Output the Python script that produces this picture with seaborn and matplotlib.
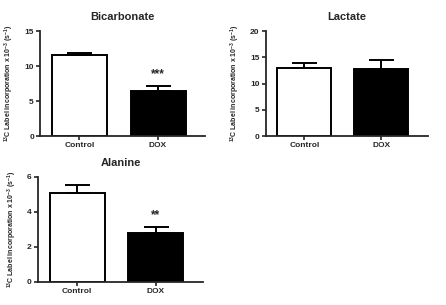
import matplotlib
matplotlib.use("Agg")
import matplotlib.pyplot as plt
import seaborn as sns
import pandas as pd

# данные
groups = ["Control", "DOX"]
bicarbonate_mean = [11.6, 6.4]
bicarbonate_err = [0.3, 0.8]
lactate_mean = [13.0, 12.7]
lactate_err = [0.85, 1.7]
alanine_mean = [5.1, 2.8]
alanine_err = [0.45, 0.35]

bar_colors = ["white", "black"]
ylabel = "$^{13}$C Label incorporation x 10$^{-3}$ (s$^{-1}$)"

sns.set_theme(style="ticks")
plt.rcParams["font.family"] = ["Liberation Sans", "DejaVu Sans"]
plt.rcParams["font.weight"] = "bold"
plt.rcParams["mathtext.default"] = "regular"

fig = plt.figure(figsize=(4.46, 3.05), dpi=100)

panels = [
    ("Bicarbonate", bicarbonate_mean, bicarbonate_err, [0, 5, 10, 15], "***", [0.09, 0.554, 0.37, 0.344]),
    ("Lactate", lactate_mean, lactate_err, [0, 5, 10, 15, 20], None, [0.596, 0.554, 0.363, 0.344]),
    ("Alanine", alanine_mean, alanine_err, [0, 2, 4, 6], "**", [0.085, 0.076, 0.37, 0.344]),
]

for title, means, errs, yticks, stars, pos in panels:
    ax = fig.add_axes(pos)
    df = pd.DataFrame({"group": groups, "value": means})
    sns.barplot(data=df, x="group", y="value", hue="group", palette=bar_colors,
                width=0.7, edgecolor="black", linewidth=1.4, legend=False, ax=ax)
    # только верхняя половина ошибки
    ax.errorbar(range(len(groups)), means, yerr=[[0] * len(errs), errs],
                fmt="none", ecolor="black", elinewidth=1.4, capsize=9, capthick=1.4)
    if stars:
        i = 1
        ax.text(i, means[i] + errs[i] + 0.05 * yticks[-1], stars, ha="center", va="bottom",
                fontsize=8.5, fontweight="bold")
    ax.set_xlim(-0.5, 1.6)
    ax.set_ylim(0, yticks[-1])
    ax.set_yticks(yticks)
    ax.set_title(title, fontsize=8, fontweight="bold", pad=8)
    ax.set_xlabel("")
    ax.set_ylabel(ylabel, fontsize=5, fontweight="bold", labelpad=6)
    ax.tick_params(axis="both", labelsize=6, length=3, width=1.2, pad=1.5)
    for lab in ax.get_xticklabels() + ax.get_yticklabels():
        lab.set_fontweight("bold")
    for s in ["left", "bottom"]:
        ax.spines[s].set_linewidth(1.3)
    sns.despine(ax=ax)

fig.savefig("out.png", dpi=100)
